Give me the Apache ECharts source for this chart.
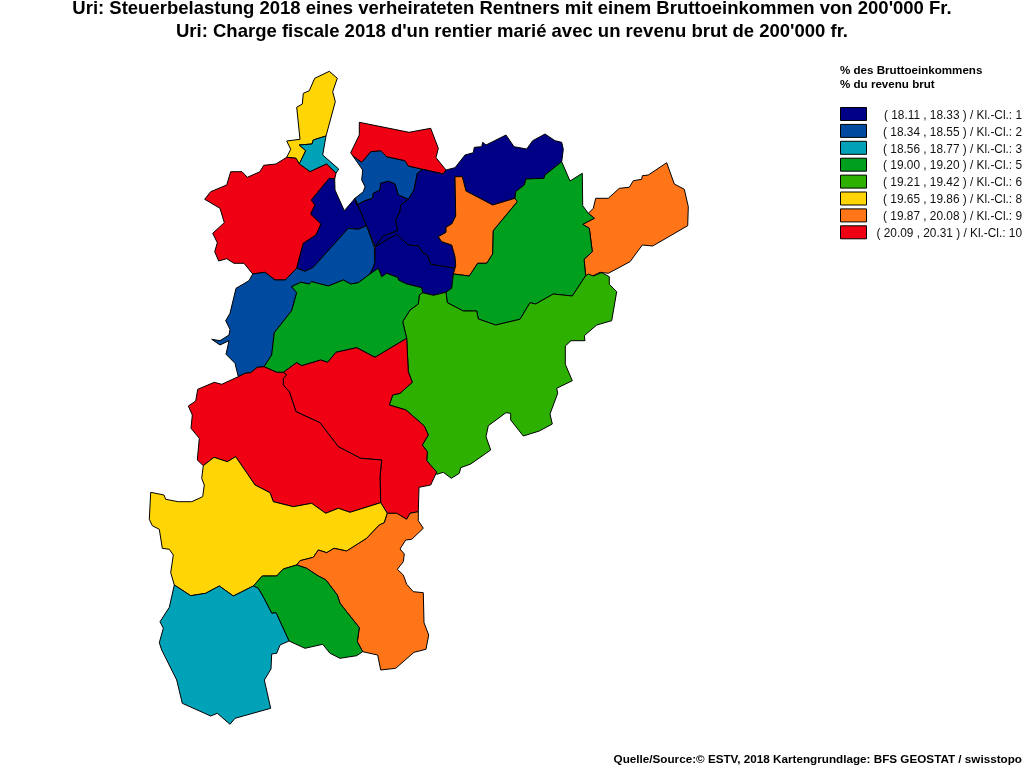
<!DOCTYPE html>
<html><head><meta charset="utf-8">
<style>html,body{margin:0;padding:0;background:#fff}#c{width:1024px;height:768px}</style>
<script src="https://cdn.jsdelivr.net/npm/echarts@6/dist/echarts.min.js"></script>
</head><body><div id="c"></div>
<script>
const titleLines = ["Uri: Steuerbelastung 2018 eines verheirateten Rentners mit einem Bruttoeinkommen von 200'000 Fr.",
  "Uri: Charge fiscale 2018 d'un rentier marié avec un revenu brut de 200'000 fr."];
const legendTitle = ["% des Bruttoeinkommens","% du revenu brut"];
const sourceText = "Quelle/Source:© ESTV, 2018 Kartengrundlage: BFS GEOSTAT / swisstopo";
const classLow  = [18.11,18.34,18.56,19.00,19.21,19.65,19.87,20.09];
const classHigh = [18.33,18.55,18.77,19.20,19.42,19.86,20.08,20.31];
const classIds  = [1,2,3,5,6,8,9,10];
const classColors = ["#000087","#004ba0","#00a2b8","#00a01e","#2db000","#ffd505","#ff7518","#ef0012"];
const municipalities = ["Seelisberg","Bauen","Isenthal","Seedorf","Attinghausen","Flüelen","Sisikon","Altdorf","Bürglen","Schattdorf","Spiringen","Unterschächen","Silenen","Erstfeld","Gurtnellen","Wassen","Göschenen","Andermatt","Hospental","Realp"];
const taxValues = [19.75,18.66,20.2,18.22,18.45,18.44,20.2,18.22,18.22,18.22,19.97,19.1,19.31,19.1,20.2,20.2,19.75,19.97,19.1,18.66];

// Municipality boundaries (map file, planar sheet units)
const boundaries = {
"Seelisberg":[[[329.3,71.3,337.3,78.3,332.7,91.7,335.3,101.7,326,136,313.3,140,312,144,299.3,145,305.7,150.7,299.3,164,296,158.3,286.7,157.3,290.7,149.3,286.7,141,300,139.3,296.7,107.3,302.3,104,303.3,93.3,309.3,90.7,314.7,78.3]]],
"Bauen":[[[326,136,322.7,155,338.7,169,336,173.3,326.7,164,310,171.7,299.3,164,305.7,150.7,299.3,145,312,144,313.3,140]]],
"Isenthal":[[[286.7,157.3,296,158.3,299.3,164,310,171.7,326.7,164,336,173.3,334.7,179,329.3,178.3,311.3,200,315,205,310.7,214,321,224,316,235,303.3,243.3,296.7,268.3,285.3,280,275,280,265,272.3,252.7,274,244,263.3,234,263.3,226.7,258.7,218.7,261,214.7,251.7,217.3,242.7,212.7,233.3,224.3,222.7,220,208.3,204.7,199.3,210.7,191.7,226.7,185,230.7,171.7,242,171.7,247.3,177.3,260,171.7,263.7,165.3,276,164]]],
"Seedorf":[[[329.3,178.3,334.7,179,335,190,344.3,210.7,355,198.3,366.7,225.7,358.3,229.3,348.3,228.3,313.3,267.3,305,271.3,296.7,268.3,303.3,243.3,316,235,321,224,310.7,214,315,205,311.3,200]]],
"Attinghausen":[[[296.7,268.3,305,271.3,313.3,267.3,348.3,228.3,358.3,229.3,366.7,225.7,374.3,247.7,375,262,373,268,370,274,358.3,282.7,350.7,284,343.3,280,328.3,286,311.7,281.7,309.3,284,300.7,282.3,291.7,286.7,296.7,292.7,291.7,310.7,274.3,332.7,271.7,355,264,366.7,257.3,367.3,250.7,372.7,245,373.3,238.3,376.7,235,363.3,226,354.3,229,340.7,220,345,211.7,339.3,220,340.7,229,335,230,329.3,225.7,320.7,230,313.3,236,288.3,249,280.7,252.7,274,265,272.3,275,280,285.3,280]]],
"Flüelen":[[[352.7,155.7,361.7,162.3,370.7,151.7,380.7,150.7,386.7,156.7,405,160.7,408.3,166,422.7,169.3,417.3,173.3,414,190,408.3,199.3,398.3,195,395,184,388.3,181.3,380.7,183.3,380,190,373.3,193.3,372.7,198.3,365,200.7,356.7,205,355,198.3,363.3,191.7,365,186.7,361.7,180,362.7,170]]],
"Sisikon":[[[359.3,122.3,409,132.3,430.7,128.3,438.3,148.3,436,157.7,446,170,443.3,174,422.7,169.3,408.3,166,405,160.7,386.7,156.7,380.7,150.7,370.7,151.7,361.7,162.3,352.7,155.7,350.7,152.7,359.3,135]]],
"Altdorf":[[[355,198.3,356.7,205,365,200.7,372.7,198.3,373.3,193.3,380,190,380.7,183.3,388.3,181.3,395,184,398.3,195,408.3,199.3,400.7,205,400,211.7,395.7,220,397.7,230.7,383.3,236,375,246.7,366.7,225.7]]],
"Bürglen":[[[422.7,169.3,443.3,174,446,170,455,167.7,465,155,473.3,152.7,474.3,147.3,481.7,146.7,482.7,142.3,486,145,506,135,514,146.7,526.7,149,532.7,140.7,545,134,555,140.7,561.7,142.3,563.3,149.3,561.7,161.7,545,175,544,178.3,526,179,524.3,185,515.7,191.7,515,198.3,492.7,205,466,191,462.3,176.7,455,176.7,455.7,216,451.7,224,446,227.3,446,232.3,438.3,236.7,441.7,241.7,451.7,245,455,256.7,455.7,265,455,268.3,430.7,264.3,427.3,255,423.3,253.3,418.3,246,408.3,245,396.7,234.3,375,246.7,383.3,236,397.7,230.7,395.7,220,400,211.7,400.7,205,408.3,199.3,414,190,417.3,173.3]]],
"Schattdorf":[[[375,246.7,396.7,234.3,408.3,245,418.3,246,423.3,253.3,427.3,255,430.7,264.3,455,268.3,453.3,274,451.7,288.3,446,292.3,433.3,295.3,422.7,292.7,421.7,287.7,406.7,284,398.3,280,398.3,277.7,386.7,273.3,381.7,276.7,378.3,268.3,370,274,373,268,375,262]]],
"Spiringen":[[[455,176.7,462.3,176.7,466,191,492.7,205,515,198.3,517.3,201.7,493.3,230.7,492.7,254,486.7,263.3,477.7,263.3,469.3,276,453.3,274,455,268.3,455.7,265,455,256.7,451.7,245,441.7,241.7,438.3,236.7,446,232.3,446,227.3,451.7,224,455.7,216]],
 [[666.7,162.7,674.3,184,684.3,189.3,688.3,206.7,687.7,225.7,652.7,246,642.3,245,630,261.7,608.3,273.3,600,272.3,592.7,276,585.7,275.7,584,259.3,592.3,251.7,589.3,228.3,582.7,224.3,594.3,218.3,588.3,213.3,593.3,208.3,595.7,198.3,608.3,198.3,619.3,188.3,629.3,187.3,633.3,180.7,641.7,179.3,642.3,175.7,648.3,175]]],
"Unterschächen":[[[561.7,161.7,570,181,582.3,173.3,582.7,205.7,588.3,213.3,594.3,218.3,582.7,224.3,589.3,228.3,592.3,251.7,584,259.3,585.7,275.7,572.3,296,553.3,294,535.7,304,530,302.7,520,319.3,495.7,325,478.3,319,476.7,311,463.3,311,447.3,302.7,446,292.3,451.7,288.3,453.3,274,469.3,276,477.7,263.3,486.7,263.3,492.7,254,493.3,230.7,517.3,201.7,515,198.3,515.7,191.7,524.3,185,526,179,544,178.3,545,175]]],
"Silenen":[[[419.3,295,422.7,292.7,433.3,295.3,446,292.3,447.3,302.7,463.3,311,476.7,311,478.3,319,495.7,325,520,319.3,530,302.7,535.7,304,553.3,294,572.3,296,585.7,275.7,588.3,274,593.3,276,601.7,272.7,609.3,276.7,609.3,284.3,616.7,291.7,611.7,320.7,596.7,325,584.3,335.7,585,340.7,571,340.7,565.3,346,565.3,364.3,572.3,380.7,556.7,388.3,557.7,393.3,550,414,552.3,424,539.3,431,523.3,436,510.7,420,510.7,413.3,506,412.7,488.3,425.7,486,436.7,490.7,450,470.7,464,460.7,467.7,459.3,473.3,451.3,478.3,443.3,472.3,436.7,474.3,426.7,460.7,427.3,451.7,422.3,445,428.3,435,424.3,426,406,410,389.3,405,392.7,395,400,393.3,412.3,382.3,408.3,371.7,406.7,338.3,402.7,321.7,410,310,418.3,304]]],
"Erstfeld":[[[370,274,378.3,268.3,381.7,276.7,386.7,273.3,398.3,277.7,398.3,280,406.7,284,421.7,287.7,422.7,292.7,419.3,295,418.3,304,410,310,402.7,321.7,406.7,338.3,375,357.3,356.7,347.7,336,352.3,327.7,362.3,320.7,360,301.7,365.7,296.7,362.7,283.3,372.3,276.7,372.3,264,366.7,271.7,355,274.3,332.7,291.7,310.7,296.7,292.7,291.7,286.7,300.7,282.3,309.3,284,311.7,281.7,328.3,286,343.3,280,350.7,284,358.3,282.7]]],
"Gurtnellen":[[[283.3,372.3,296.7,362.7,301.7,365.7,320.7,360,327.7,362.3,336,352.3,356.7,347.7,375,357.3,406.7,338.3,408.3,371.7,412.3,382.3,400,393.3,392.7,395,389.3,405,406,410,424.3,426,428.3,435,422.3,445,427.3,451.7,426.7,460.7,436.7,472,430.7,485,419,487.3,418.3,511.7,410,513.3,406.7,519.3,396.7,513.3,387.3,513.3,380.7,502.7,380,476.7,381.7,460,360.7,458.3,338.3,446.7,320,422.7,296,411.7,289.3,391.7,283.3,385,283.3,378.3,286.7,375]]],
"Wassen":[[[264,366.7,276.7,372.3,283.3,372.3,286.7,375,283.3,378.3,283.3,385,289.3,391.7,296,411.7,320,422.7,338.3,446.7,360.7,458.3,381.7,460,380,476.7,380.7,502.7,350,512.3,338.3,508.3,325.7,513.3,311.7,503.3,293.3,506.7,273.3,501.7,270,492.7,255,485,235.7,456.7,227.3,461.7,214,457.3,203.3,465.7,197.3,460,199.3,438.3,191,428.3,192.3,415,188.3,406,195.7,401,197.7,389.3,214.3,382.3,221.7,384.3,238.3,376.7,245,373.3,250.7,372.7,257.3,367.3]]],
"Göschenen":[[[235.7,456.7,227.3,461.7,214,457.3,203.3,465.7,201.7,478.3,204.3,485,202.7,496.7,191.7,501.7,178.3,501.7,165.7,499.3,164,495,150.7,492.3,149.3,519.3,152.3,525.7,159.3,529.3,162.3,548.3,169.3,549.3,173.3,555,170.7,572.7,174.3,585,190.7,595.7,205.7,593.3,219.3,586,233.3,596,253.3,586,262.3,576,276.7,576,283.3,569,296.7,565,300,560.7,313.3,557.3,318.3,550,326.7,552.7,334,548.3,346.7,551,366.7,538.3,379.3,525,384.3,522.7,387.3,513.3,380.7,502.7,350,512.3,338.3,508.3,325.7,513.3,311.7,503.3,293.3,506.7,273.3,501.7,270,492.7,255,485]]],
"Andermatt":[[[387.3,513.3,396.7,513.3,406.7,519.3,410,513.3,418.3,511.7,418.3,520.7,423.3,528.3,411.7,539.3,405.7,540,400,549,404.3,554,403.3,561.7,397.3,569.3,403.3,575,406.7,584.3,413.3,591.7,423.3,592.7,424,622.7,428.7,635,426,649.3,414,652.3,395.7,668.3,380.7,670,377.7,655,362.7,651.7,357.3,641.7,359.3,627.7,340,603.3,337.3,595,326,580,316.7,575,306.7,568.3,296.7,565,300,560.7,313.3,557.3,318.3,550,326.7,552.7,334,548.3,346.7,551,366.7,538.3,379.3,525,384.3,522.7]]],
"Hospental":[[[253.3,586,262.3,576,276.7,576,283.3,569,296.7,565,306.7,568.3,316.7,575,326,580,337.3,595,340,603.3,359.3,627.7,357.3,641.7,362.7,651.7,356.7,655.7,340,658.3,330,653.3,322.7,644.3,305,648.3,289,641,276,612.7,271.7,613.3,264,598.3,258.3,588.3]]],
"Realp":[[[174.3,585,190.7,595.7,205.7,593.3,219.3,586,233.3,596,253.3,586,258.3,588.3,264,598.3,271.7,613.3,276,612.7,289,641,280,645,276.7,653.3,271.7,654,271,669,264.3,680,270.7,708.3,235,718.3,230,724.3,217.3,713.3,210.7,716,182.3,703.3,176.7,680,161.7,650,159.3,642.7,163.3,628.3,160,621.7,169.3,607.3]]]
};

const toRing = flat => { const r=[]; for(let i=0;i<flat.length;i+=2) r.push([flat[i],768-flat[i+1]]); r.push(r[0]); return r; };
const geo = {type:"FeatureCollection",features:municipalities.map(n=>({type:"Feature",properties:{name:n},
  geometry:{type:"MultiPolygon",coordinates:boundaries[n].map(p=>p.map(toRing))}}))};
echarts.registerMap("uri",geo);

const SW=[], nb="\u00a0";
classIds.forEach((id,i)=>{
  const label=`${id<10?nb+nb:""}( ${classLow[i].toFixed(2)} , ${classHigh[i].toFixed(2)} ) / Kl.-Cl.: ${id}`;
  const y=107.5+i*16.9;
  SW.push({type:"rect",shape:{x:840.5,y:y,width:26,height:13},style:{fill:classColors[i],stroke:"#000",lineWidth:1},silent:true});
  SW.push({type:"text",style:{x:1022,y:y+8,text:label,align:"right",verticalAlign:"middle",fill:"#111",font:'11.85px "Liberation Sans"'},silent:true});
});
legendTitle.forEach((t,i)=>SW.push({type:"text",style:{x:840,y:71+i*14,text:t,align:"left",verticalAlign:"middle",fill:"#000",font:'bold 11.6px "Liberation Sans"'},silent:true}));
titleLines.forEach((t,i)=>SW.push({type:"text",style:{x:512,y:9+i*22.5,text:t,align:"center",verticalAlign:"middle",fill:"#000",font:'bold 18.5px "Liberation Sans"'},silent:true}));
SW.push({type:"text",style:{x:1022,y:760,text:sourceText,align:"right",verticalAlign:"middle",fill:"#000",font:'bold 11.7px "Liberation Sans"'},silent:true});

const chart=echarts.init(document.getElementById("c"),null,{renderer:"canvas"});
chart.setOption({
  animation:false,backgroundColor:"#fff",
  visualMap:{type:"piecewise",show:false,seriesIndex:0,
    pieces:classIds.map((id,i)=>({min:classLow[i],max:classHigh[i],color:classColors[i]}))},
  series:[{type:"map",map:"uri",aspectScale:1,roam:false,silent:true,selectedMode:false,
    boundingCoords:[[0,768],[1024,0]],left:0,top:0,width:1024,height:768,
    label:{show:false},emphasis:{disabled:true},
    itemStyle:{borderColor:"#000",borderWidth:1},
    data:municipalities.map((n,i)=>({name:n,value:taxValues[i]}))}],
  graphic:SW
});
</script></body></html>
